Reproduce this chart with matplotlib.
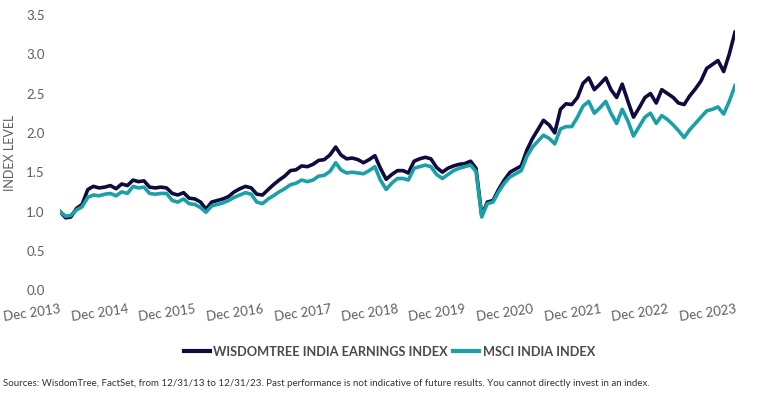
import pandas as pd
import numpy as np
import matplotlib
matplotlib.use("Agg")
import matplotlib.pyplot as plt

# month-end levels, Dec 2013 .. Dec 2023
dates = pd.date_range("2013-12-31", "2023-12-31", freq="ME")

wisdomtree = [
    1.00, 0.92, 0.93, 1.04, 1.09, 1.28, 1.32, 1.30, 1.31, 1.33, 1.29, 1.35,
    1.33, 1.40, 1.38, 1.39, 1.31, 1.30, 1.31, 1.30, 1.23, 1.21, 1.24, 1.17,
    1.16, 1.12, 1.03, 1.12, 1.14, 1.16, 1.19, 1.25, 1.29, 1.32, 1.30, 1.22,
    1.21, 1.28, 1.34, 1.40, 1.45, 1.52, 1.53, 1.58, 1.57, 1.60, 1.65, 1.66,
    1.72, 1.82, 1.72, 1.67, 1.68, 1.66, 1.62, 1.66, 1.71, 1.55, 1.41, 1.47,
    1.52, 1.52, 1.49, 1.64, 1.67, 1.69, 1.67, 1.56, 1.50, 1.55, 1.58, 1.60,
    1.61, 1.64, 1.55, 0.95, 1.12, 1.14, 1.28, 1.40, 1.50, 1.54, 1.58, 1.78,
    1.93, 2.05, 2.16, 2.10, 2.00, 2.30, 2.37, 2.36, 2.45, 2.63, 2.70, 2.55,
    2.62, 2.70, 2.55, 2.45, 2.62, 2.40, 2.20, 2.32, 2.45, 2.50, 2.38, 2.55,
    2.50, 2.45, 2.38, 2.36, 2.47, 2.56, 2.66, 2.82, 2.87, 2.92, 2.78, 3.00,
    3.28,
]

msci_india = [
    1.00, 0.94, 0.95, 1.02, 1.06, 1.18, 1.21, 1.20, 1.22, 1.23, 1.20, 1.25,
    1.23, 1.32, 1.30, 1.31, 1.23, 1.22, 1.23, 1.23, 1.14, 1.12, 1.16, 1.10,
    1.09, 1.05, 0.99, 1.07, 1.09, 1.11, 1.14, 1.18, 1.21, 1.24, 1.22, 1.12,
    1.10, 1.16, 1.20, 1.25, 1.29, 1.34, 1.36, 1.40, 1.38, 1.40, 1.45, 1.46,
    1.51, 1.62, 1.53, 1.49, 1.50, 1.49, 1.48, 1.52, 1.57, 1.40, 1.28, 1.36,
    1.42, 1.42, 1.40, 1.55, 1.57, 1.59, 1.57, 1.47, 1.42, 1.47, 1.52, 1.55,
    1.57, 1.59, 1.51, 0.93, 1.10, 1.12, 1.25, 1.36, 1.44, 1.48, 1.52, 1.70,
    1.82, 1.90, 1.97, 1.93, 1.86, 2.05, 2.08, 2.08, 2.20, 2.34, 2.40, 2.25,
    2.32, 2.40, 2.25, 2.12, 2.30, 2.15, 1.96, 2.08, 2.20, 2.25, 2.12, 2.22,
    2.17, 2.10, 2.03, 1.94, 2.04, 2.12, 2.20, 2.28, 2.30, 2.33, 2.24, 2.40,
    2.60,
]

tick_dates = pd.date_range("2013-12-31", "2023-12-31", freq="12ME")
tick_labels = [f"Dec {d.year}" for d in tick_dates]

plt.rcParams["font.family"] = ["Lato", "DejaVu Sans"]
grey = "#5f5f5f"

fig = plt.figure(figsize=(7.68, 4.03), dpi=100)
ax = fig.add_axes([0.078, 0.28, 0.879, 0.683])

ax.plot(dates, wisdomtree, color="#0f0b3e", lw=2.6,
        label="WISDOMTREE INDIA EARNINGS INDEX")
ax.plot(dates, msci_india, color="#1aa0a6", lw=2.6,
        label="MSCI INDIA INDEX")

ax.set_ylim(0, 3.5)
ax.set_yticks(np.arange(0, 3.51, 0.5))
ax.yaxis.set_major_formatter(matplotlib.ticker.FormatStrFormatter("%.1f"))
ax.set_xlim(tick_dates[0], tick_dates[-1])
ax.set_xticks(tick_dates)
ax.set_xticklabels(tick_labels, rotation=8, ha="right", rotation_mode="anchor")

for s in ax.spines.values():
    s.set_visible(False)
ax.tick_params(length=0, labelsize=9.5, colors=grey)
ax.tick_params(axis="y", pad=11)
ax.tick_params(axis="x", pad=9)
ax.set_ylabel("INDEX LEVEL", fontsize=9, color=grey, labelpad=7)

leg = fig.legend(loc="center", bbox_to_anchor=(0.507, 0.127), ncol=2,
                 frameon=False, handlelength=2.0, handletextpad=0.3,
                 columnspacing=0.4, prop={"weight": "bold", "size": 9.2})
for t in leg.get_texts():
    t.set_color("#4a4a4a")
for h in leg.get_lines():
    h.set_linewidth(3)

fig.text(0.004, 0.048,
         "Sources: WisdomTree, FactSet, from 12/31/13 to 12/31/23. Past performance is "
         "not indicative of future results. You cannot directly invest in an index.",
         fontsize=7.0, color="#333333", ha="left", va="center")

fig.savefig("out.png", dpi=100)
